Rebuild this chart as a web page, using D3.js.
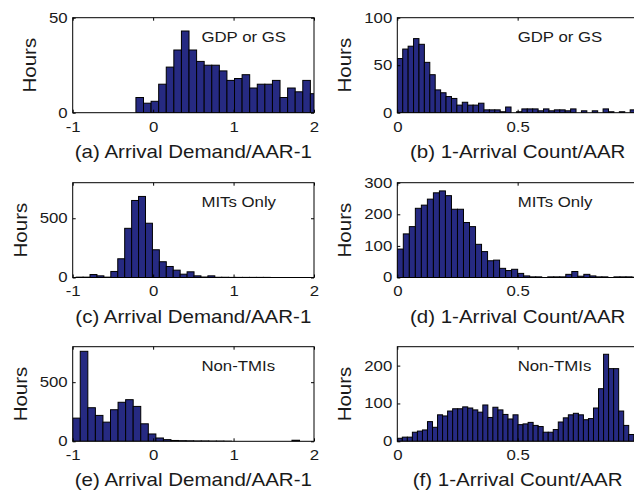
<!DOCTYPE html>
<html>
<head>
<meta charset="utf-8">
<script src="https://cdn.jsdelivr.net/npm/d3@7"></script>
<style>
  body { margin: 0; background: #fff; }
  svg { display: block; }
</style>
</head>
<body>
<svg id="fig" width="634" height="491"></svg>
<script>
// ---- Histogram data: hours per bin, bins of equal width starting at binStart ----

// (a) GDP or GS: Arrival Demand/AAR - 1
const gdpDemandStart = -0.214;
const gdpDemandWidth = 0.0943;
const gdpDemandCounts = [8, 5, 6, 15, 24, 33, 43, 33, 27, 25, 25, 22, 17, 18, 20, 13, 15, 15, 17, 8, 13, 11, 17, 10];

// (b) GDP or GS: 1 - Arrival Count/AAR
const gdpCountStart = 0;
const gdpCountWidth = 0.0225;
const gdpCountCounts = [57, 67, 70, 78, 72, 53, 40, 24, 21, 17, 15, 8, 11, 8, 8, 10, 3, 3, 3, 1,
                        6, 0, 1, 4, 4, 4, 2, 4, 2, 3, 3, 2, 4, 0, 2, 0, 2, 0, 4, 1, 0, 1, 0, 3];

// (c) MITs only: Arrival Demand/AAR - 1
const mitDemandStart = -0.957;
const mitDemandWidth = 0.0862;
const mitDemandCounts = [3, 3, 25, 14, 3, 51, 158, 415, 650, 684, 458, 234, 133, 93, 62, 28, 48, 14, 4, 14,
                         2, 2, 1, 1, 1, 1, 1, 1, 0, 0];

// (d) MITs only: 1 - Arrival Count/AAR
const mitCountStart = 0;
const mitCountWidth = 0.025;
const mitCountCounts = [90, 138, 161, 219, 229, 248, 268, 274, 259, 216, 216, 174, 161, 105, 82, 53, 55, 29, 22, 26,
                        13, 5, 2, 2, 0, 2, 2, 2, 10, 19, 4, 10, 5, 2, 2, 0, 2, 2, 2, 1];

// (e) Non-TMIs: Arrival Demand/AAR - 1
const nonTmiDemandStart = -1;
const nonTmiDemandWidth = 0.094;
const nonTmiDemandCounts = [196, 761, 284, 219, 162, 267, 330, 352, 295, 148, 62, 28, 14, 7, 5, 4, 3, 3, 2, 2,
                            1, 0, 0, 0, 0, 0, 0, 0, 0, 9];

// (f) Non-TMIs: 1 - Arrival Count/AAR
const nonTmiCountStart = 0;
const nonTmiCountWidth = 0.0209;
const nonTmiCountCounts = [8, 11, 11, 24, 27, 30, 52, 37, 70, 67, 80, 86, 86, 91, 88, 83, 77, 96, 63, 90,
                           83, 71, 59, 70, 44, 46, 50, 42, 39, 24, 24, 31, 51, 62, 70, 74, 70, 57, 60, 88,
                           139, 230, 192, 192, 80, 42, 18];

// ---- Axis settings ----
const demandDomain = [-1, 2];
const demandTicks = [-1, 0, 1, 2];
const countDomain = [0, 1];
const countTicks = [0, 0.5];

const xLabels = ["(a) Arrival Demand/AAR-1", "(b) 1-Arrival Count/AAR",
                 "(c) Arrival Demand/AAR-1", "(d) 1-Arrival Count/AAR",
                 "(e) Arrival Demand/AAR-1", "(f) 1-Arrival Count/AAR"];
const notes = ["GDP or GS", "GDP or GS", "MITs Only", "MITs Only", "Non-TMIs", "Non-TMIs"];
const noteX = [0.6, 0.5, 0.6, 0.5, 0.6, 0.5];
const yMaxes = [50, 100, 800, 300, 800, 250];
const yTickSets = [[0, 50], [0, 50, 100], [0, 500], [0, 100, 200, 300], [0, 500], [0, 100, 200]];
const yTitle = "Hours";

const panels = [
  { start: gdpDemandStart, width: gdpDemandWidth, counts: gdpDemandCounts, xDomain: demandDomain, xTicks: demandTicks },
  { start: gdpCountStart, width: gdpCountWidth, counts: gdpCountCounts, xDomain: countDomain, xTicks: countTicks },
  { start: mitDemandStart, width: mitDemandWidth, counts: mitDemandCounts, xDomain: demandDomain, xTicks: demandTicks },
  { start: mitCountStart, width: mitCountWidth, counts: mitCountCounts, xDomain: countDomain, xTicks: countTicks },
  { start: nonTmiDemandStart, width: nonTmiDemandWidth, counts: nonTmiDemandCounts, xDomain: demandDomain, xTicks: demandTicks },
  { start: nonTmiCountStart, width: nonTmiCountWidth, counts: nonTmiCountCounts, xDomain: countDomain, xTicks: countTicks }
];

// ---- Layout and style ----
const cols = [[72.7, 314], [397.3, 638]];
const rows = [[17.7, 112.7], [182.7, 277.5], [346.7, 441.3]];
const FONT = '"Liberation Sans", Arial, Helvetica, sans-serif';
const BAR_FILL = "#262a82";
const TEXT_COLOR = "#1a1a1a";
const TICK_LEN = 3;
const TICK_SIZE = 14, TICK_SX = 1.2;
const LABEL_SIZE = 18, LABEL_SX = 1.14;
const NOTE_SIZE = 14, NOTE_SX = 1.2;

const svg = d3.select("#fig");
const fmt = d => String(d);

function addText(parent, x, y, str, size, sx, anchor, rot) {
  return parent.append("text")
    .attr("transform", `translate(${x},${y}) rotate(${rot || 0}) scale(${sx},1)`)
    .attr("text-anchor", anchor)
    .attr("font-family", FONT)
    .attr("font-size", size)
    .attr("fill", TEXT_COLOR)
    .text(str);
}

panels.forEach((p, i) => {
  const [x0, x1] = cols[i % 2];
  const [y0, y1] = rows[Math.floor(i / 2)];
  const x = d3.scaleLinear().domain(p.xDomain).range([x0, x1]);
  const y = d3.scaleLinear().domain([0, yMaxes[i]]).range([y1, y0]);
  const g = svg.append("g");

  // bars, clipped to the axes box
  const clipId = "plotclip" + i;
  svg.append("clipPath").attr("id", clipId)
    .append("rect").attr("x", x0).attr("y", y0 - 1).attr("width", x1 - x0).attr("height", y1 - y0 + 1);
  g.append("g").attr("clip-path", `url(#${clipId})`)
    .selectAll("rect").data(p.counts).join("rect")
    .attr("x", (d, k) => x(p.start + k * p.width))
    .attr("width", (d, k) => x(p.start + (k + 1) * p.width) - x(p.start + k * p.width))
    .attr("y", d => y(d))
    .attr("height", d => y(0) - y(d))
    .attr("fill", BAR_FILL)
    .attr("stroke", "#000")
    .attr("stroke-width", 1);

  // inward ticks on all four sides
  const bottom = g.append("g").attr("transform", `translate(0,${y1})`)
    .call(d3.axisBottom(x).tickValues(p.xTicks).tickSize(-TICK_LEN).tickPadding(9).tickFormat(fmt));
  const left = g.append("g").attr("transform", `translate(${x0},0)`)
    .call(d3.axisLeft(y).tickValues(yTickSets[i]).tickSize(-TICK_LEN).tickPadding(5).tickFormat(fmt));
  g.append("g").attr("transform", `translate(0,${y0})`)
    .call(d3.axisTop(x).tickValues(p.xTicks).tickSize(-TICK_LEN).tickFormat(""));
  g.append("g").attr("transform", `translate(${x1},0)`)
    .call(d3.axisRight(y).tickValues(yTickSets[i]).tickSize(-TICK_LEN).tickFormat(""));

  g.selectAll(".domain").remove();
  g.selectAll(".tick line").attr("stroke", "#000");

  bottom.selectAll("text")
    .attr("fill", TEXT_COLOR)
    .attr("font-family", FONT).attr("font-size", TICK_SIZE)
    .attr("transform", `scale(${TICK_SX},1)`);
  left.selectAll("text")
    .attr("fill", TEXT_COLOR)
    .attr("font-family", FONT).attr("font-size", TICK_SIZE)
    .attr("x", -5 / TICK_SX)
    .attr("transform", `scale(${TICK_SX},1)`);

  // axes box
  g.append("rect")
    .attr("x", x0).attr("y", y0).attr("width", x1 - x0).attr("height", y1 - y0)
    .attr("fill", "none").attr("stroke", "#000").attr("stroke-width", 1);

  // x label
  addText(g, (x0 + x1) / 2, y1 + 45, xLabels[i], LABEL_SIZE, LABEL_SX, "middle");

  // y label, placed left of the widest tick label
  let minLeft = Infinity;
  left.selectAll("text").each(function () {
    minLeft = Math.min(minLeft, this.getBoundingClientRect().left);
  });
  addText(g, minLeft - 13, (y0 + y1) / 2, yTitle, LABEL_SIZE, LABEL_SX, "middle", -90);

  // panel annotation
  addText(g, x(noteX[i]), y0 + 24, notes[i], NOTE_SIZE, NOTE_SX, "start");
});
</script>
</body>
</html>
